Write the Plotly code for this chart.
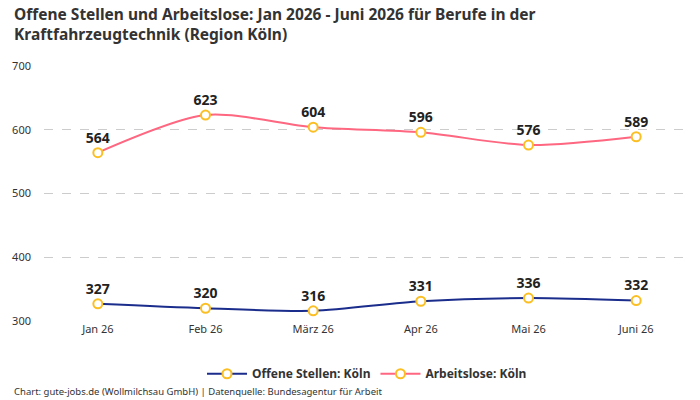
import plotly.graph_objects as go

months = ["Jan 26", "Feb 26", "März 26", "Apr 26", "Mai 26", "Juni 26"]
offene = [327, 320, 316, 331, 336, 332]
arbeitslose = [564, 623, 604, 596, 576, 589]

FONT = "Noto Sans"
fig = go.Figure()
for name, vals, col in [("Offene Stellen: Köln", offene, "#1b2d8c"),
                        ("Arbeitslose: Köln", arbeitslose, "#ff6680")]:
    fig.add_trace(go.Scatter(
        x=months, y=vals, name=name, mode="lines+markers+text",
        line=dict(color=col, width=2, shape="spline", smoothing=0.8),
        marker=dict(size=9, color="white", line=dict(color="#fbbf24", width=2)),
        text=[str(v) for v in vals], textposition="top center",
        textfont=dict(family=FONT, size=14, color="#222", weight="bold"),
        cliponaxis=False,
    ))

fig.update_layout(
    width=700, height=400,
    margin=dict(l=44, r=10, t=66, b=79),
    paper_bgcolor="white", plot_bgcolor="white",
    font=dict(family=FONT, color="#333"),
    xaxis=dict(range=[-0.5, 5.5], showgrid=False, showline=False, ticks="",
               tickfont=dict(size=11, color="#333")),
    yaxis=dict(range=[300, 700], tickvals=[300, 400, 500, 600, 700], showgrid=True,
               gridcolor="#cccccc", griddash="dash", zeroline=False,
               tickfont=dict(size=11, color="#333"), ticklabelstandoff=12),
    legend=dict(orientation="h", x=0.5, xanchor="center", y=-0.15, yanchor="top",
                font=dict(size=12, color="#333", weight="bold"), itemwidth=40),
    showlegend=True,
)
fig.add_annotation(text="<b>Offene Stellen und Arbeitslose: Jan 2026 - Juni 2026 für Berufe in der<br>Kraftfahrzeugtechnik (Region Köln)</b>",
                   xref="paper", yref="paper", x=-0.05, xanchor="left", y=1.255, yanchor="top",
                   align="left", showarrow=False, font=dict(size=15.5, color="#333", family=FONT))
fig.add_annotation(text="Chart: gute-jobs.de (Wollmilchsau GmbH) | Datenquelle: Bundesagentur für Arbeit",
                   xref="paper", yref="paper", x=-0.05, xanchor="left", y=-0.31, yanchor="bottom",
                   showarrow=False, font=dict(size=9.5, color="#333", family=FONT))
fig.write_html("out.html")
